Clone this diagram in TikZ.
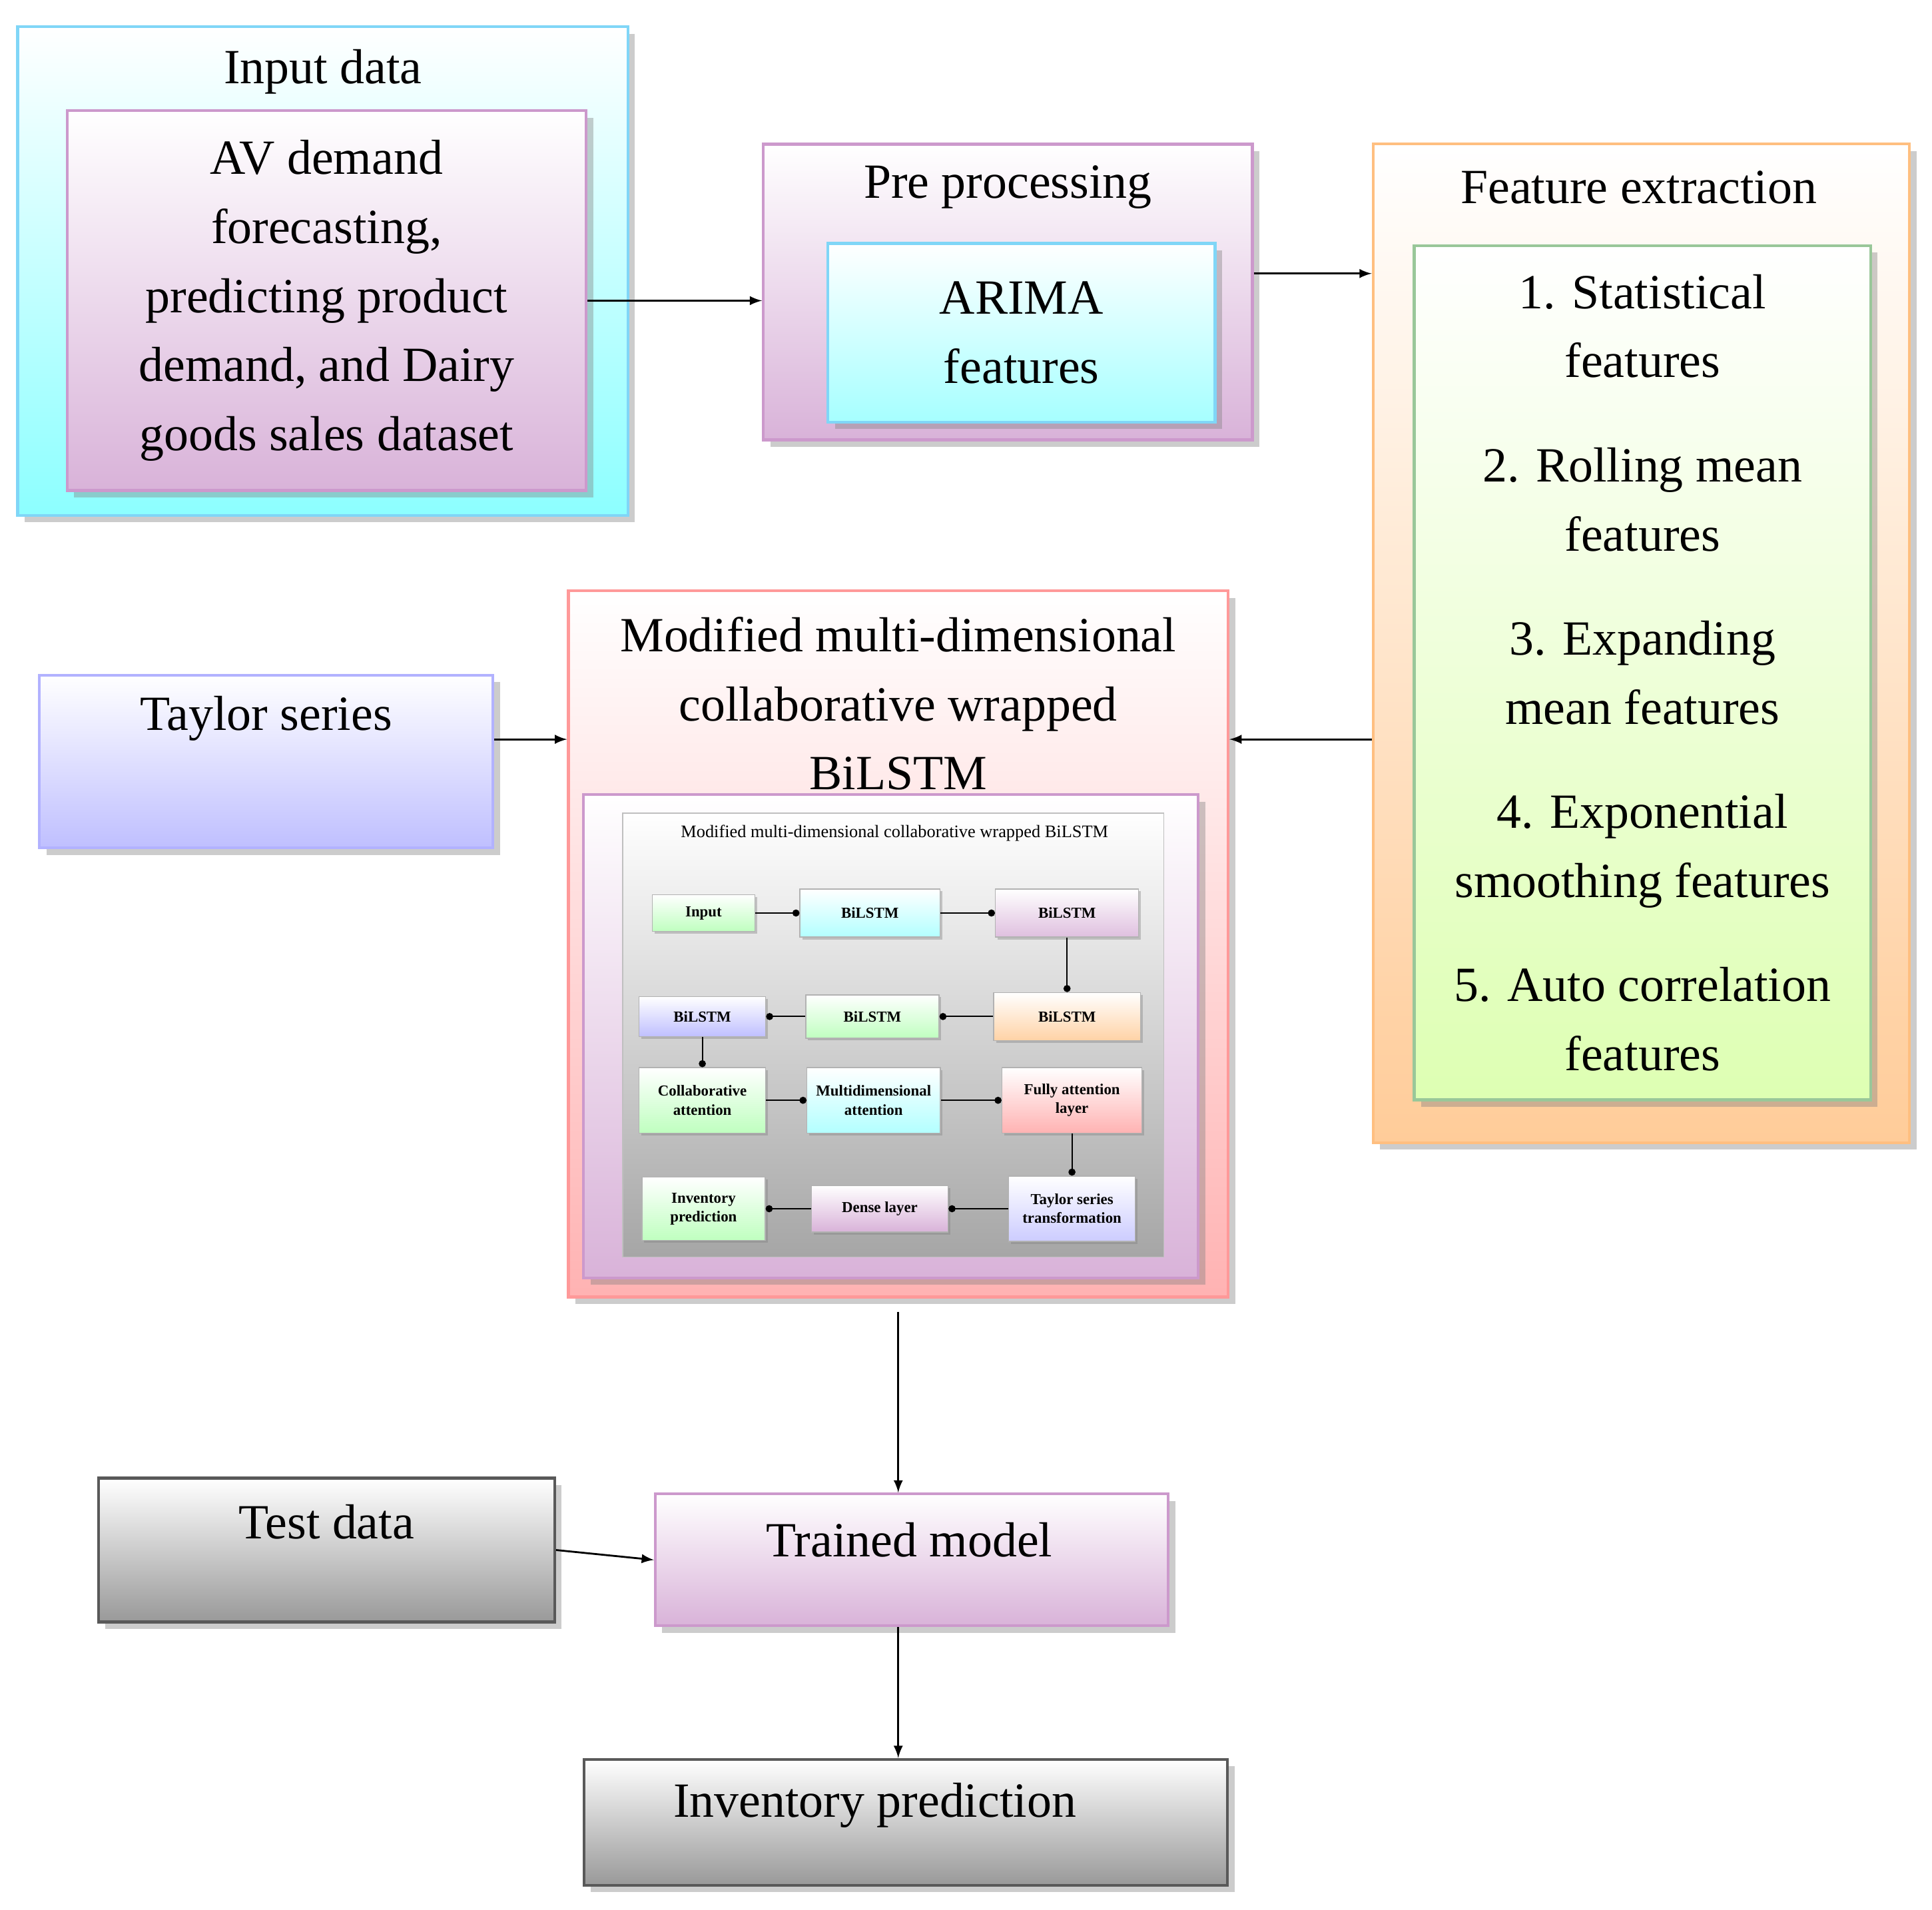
\documentclass[tikz,border=0pt]{standalone}
\usepackage{fontspec}
\setmainfont{Liberation Serif}
\usepackage{tikz}
\usetikzlibrary{positioning,shadows,arrows.meta}

\begin{document}
\begin{tikzpicture}[
        x=0.0185cm, y=-0.0185cm,
        box/.style 2 args = {rectangle, draw=#2, line width=1.2pt, top color=white, bottom color=#1, drop shadow={shadow xshift=3pt, shadow yshift=-3pt, opacity=0.4}},
        bigtext/.style = {font=\fontsize{21}{29.5}\selectfont, align=center},
        mini/.style = {rectangle, draw=gray!60, top color=white, bottom color=#1, font=\fontsize{6.5}{8}\selectfont\bfseries, align=center, inner sep=1pt, drop shadow={shadow xshift=1pt, shadow yshift=-1pt, opacity=0.4}},
        line/.style = {draw, -latex, thick}, % main arrows
        dot/.style = {draw, -{Circle[length=3pt]}, semithick} % inner arrows
    ]
        \useasboundingbox (0,0) rectangle (1568,1550);

        % Input data
        \node [box={cyan!45}{cyan!50}, minimum width=9.16cm, minimum height=7.33cm] (input) at (262,220) {};
        \node [bigtext] (inputtitle) at (262,58) {Input data};
        \node [box={violet!30}{violet!40}, minimum width=7.79cm, minimum height=5.70cm, bigtext] (av) at (265,244) {AV demand\\forecasting,\\predicting product\\demand, and Dairy\\goods sales dataset};

        % Pre processing
        \node [box={violet!30}{violet!40}, minimum width=7.34cm, minimum height=4.44cm] (pre) at (818,237) {};
        \node [bigtext] (pretitle) at (818,152) {Pre processing};
        \node [box={cyan!35}{cyan!50}, minimum width=5.81cm, minimum height=2.68cm, bigtext] (arima) at (829,270) {ARIMA\\features};

        % Feature extraction
        \node [box={orange!40}{orange!50}, minimum width=8.05cm, minimum height=14.99cm] (feat) at (1332,522) {};
        \node [bigtext] (feattitle) at (1330,152) {Feature extraction};
        \node [box={green!25!lime!30}{green!45!black!40}, minimum width=6.85cm, minimum height=12.82cm, bigtext] (featlist) at (1333,546)
            {1. Statistical\\features\\[15pt] 2. Rolling mean\\features\\[15pt] 3. Expanding\\mean features\\[15pt] 4. Exponential\\smoothing features\\[15pt] 5. Auto correlation\\features};

        % Model
        \node [box={red!30}{red!40}, minimum width=9.90cm, minimum height=10.60cm] (mod) at (729,766) {};
        \node [bigtext] (modtitle) at (729,571) {Modified multi-dimensional\\collaborative wrapped\\BiLSTM};
        \node [box={violet!30}{violet!40}, minimum width=9.23cm, minimum height=7.25cm] (modin) at (723,841) {};
        \node [rectangle, draw=gray!50, top color=white, bottom color=gray!70, minimum width=8.12cm, minimum height=6.66cm] (panel) at (725,840) {};
        \node [font=\fontsize{7.5}{9}\selectfont] (paneltitle) at (726,676) {Modified multi-dimensional collaborative wrapped BiLSTM};

        % Inner blocks
        \node [mini=green!25, minimum width=1.54cm, minimum height=0.55cm] (in) at (571,741) {Input};
        \node [mini=cyan!30, minimum width=2.1cm, minimum height=0.72cm] (b1) at (706,741) {BiLSTM};
        \node [mini=violet!25, minimum width=2.15cm, minimum height=0.72cm] (b2) at (866,741) {BiLSTM};
        \node [mini=orange!35, minimum width=2.2cm, minimum height=0.72cm] (b3) at (866,825) {BiLSTM};
        \node [mini=green!25, minimum width=2.0cm, minimum height=0.65cm] (b4) at (708,825) {BiLSTM};
        \node [mini=blue!25, minimum width=1.9cm, minimum height=0.6cm] (b5) at (570,825) {BiLSTM};
        \node [mini=green!25, minimum width=1.9cm, minimum height=0.98cm] (collab) at (570,893) {Collaborative\\attention};
        \node [mini=cyan!30, minimum width=2.0cm, minimum height=0.98cm] (multi) at (709,893) {Multidimensional\\attention};
        \node [mini=red!30, minimum width=2.1cm, minimum height=0.98cm] (fully) at (870,893) {Fully attention\\layer};
        \node [mini=blue!20, minimum width=1.9cm, minimum height=0.98cm] (tay) at (870,981) {Taylor series\\transformation};
        \node [mini=violet!30, minimum width=2.05cm, minimum height=0.7cm] (dense) at (714,981) {Dense layer};
        \node [mini=green!25, minimum width=1.85cm, minimum height=0.95cm] (invin) at (571,981) {Inventory\\prediction};

        \draw [dot] (in) -- (b1);
        \draw [dot] (b1) -- (b2);
        \draw [dot] (b2) -- (b3);
        \draw [dot] (b3) -- (b4);
        \draw [dot] (b4) -- (b5);
        \draw [dot] (b5) -- (collab);
        \draw [dot] (collab) -- (multi);
        \draw [dot] (multi) -- (fully);
        \draw [dot] (fully) -- (tay);
        \draw [dot] (tay) -- (dense);
        \draw [dot] (dense) -- (invin);

        % Other blocks
        \node [box={blue!25}{blue!30}, minimum width=6.81cm, minimum height=2.59cm] (taylor) at (216,618) {};
        \node [bigtext] (taylortitle) at (216,583) {Taylor series};
        \node [box={gray!80}{gray!70!black}, minimum width=6.85cm, minimum height=2.16cm] (test) at (265,1258) {};
        \node [bigtext] (testtitle) at (265,1235) {Test data};
        \node [box={violet!30}{violet!40}, minimum width=7.70cm, minimum height=1.98cm] (trained) at (740,1266) {};
        \node [bigtext] (trainedtitle) at (738,1250) {Trained model};
        \node [box={gray!80}{gray!70!black}, minimum width=9.66cm, minimum height=1.89cm] (inv) at (735,1479) {};
        \node [bigtext] (invtitle) at (710,1465) {Inventory prediction};

        % Lines
        \draw [line] (av.east) -- (pre.west |- av.east);
        \draw [line] (pre.east |- 0,222) -- (feat.west |- 0,222);
        \draw [line] (feat.west |- 0,600) -- (mod.east |- 0,600);
        \draw [line] (taylor.east |- 0,600) -- (mod.west |- 0,600);
        \draw [line] ([yshift=-0.2cm]mod.south) -- (mod.south |- trained.north);
        \draw [line] (test.east) -- (trained.west);
        \draw [line] (trained.south -| mod.south) -- (mod.south |- inv.north);
    \end{tikzpicture}
\end{document}
